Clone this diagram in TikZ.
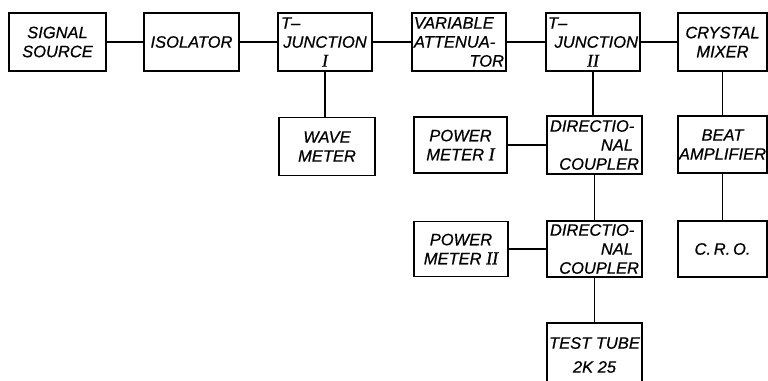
\documentclass[tikz,border=0pt]{standalone}
\usepackage{fontspec}
\setmainfont{Liberation Sans}[ItalicFeatures={FakeBold=0.6}]
\newfontfamily\rmnum{Liberation Serif}[FakeBold=0.6]
\newcommand{\Lft}[1]{\makebox[\linewidth][l]{#1}}
\newcommand{\Rgt}[1]{\makebox[\linewidth][r]{#1}}
\newcommand{\Ctr}[1]{\makebox[\linewidth][c]{#1}}
\newcommand{\rnum}[1]{{\rmnum\itshape\fontsize{18}{19}\selectfont #1}}
\tikzset{
  blk/.style={draw, line width=1.4pt, inner sep=0pt, minimum height=58pt,
    font=\itshape\fontsize{16.5}{19}\selectfont, align=center},
  w/.style={text width=#1},
  conn/.style={line width=1.4pt}
}
\begin{document}
\begin{tikzpicture}[x=1pt,y=-1pt]
\useasboundingbox (0,0) rectangle (768,380);
\fill[white] (0,0) rectangle (768,380);
\clip (0,0) rectangle (768,380);
% row 1
\node[blk, minimum width=97pt] (ss) at (57.5,42) {SIGNAL\\SOURCE};
\node[blk, minimum width=95pt] (iso) at (191.5,42) {ISOLATOR};
\node[blk, minimum width=94pt, w=88pt, align=left] (tj1) at (325,42)
  {\Lft{T--}\\\Ctr{JUNCTION}\\\Ctr{\rnum{I}}};
\node[blk, minimum width=94pt, w=90pt, align=left] (va) at (459,42)
  {\Lft{VARIABLE}\\\Lft{ATTENUA-}\\\Rgt{TOR}};
\node[blk, minimum width=94pt, w=90pt, align=left] (tj2) at (593,42)
  {\Lft{T--}\\\Rgt{JUNCTION}\\\Ctr{\rnum{II}}};
\node[blk, minimum width=89pt] (cm) at (722.5,42) {CRYSTAL\\MIXER};
% row 2
\node[blk, minimum width=96pt] (wm) at (327,146.5) {WAVE\\METER};
\node[blk, minimum width=93pt, minimum height=56pt] (pm1) at (460.5,145) {POWER\\METER \rnum{I}};
\node[blk, minimum width=95pt, w=89pt, align=left] (dc1) at (594.5,145)
  {\Lft{DIRECTIO-}\\\Rgt{NAL\hspace*{6pt}}\\\Rgt{COUPLER}};
\node[blk, minimum width=89pt, minimum height=57pt] (ba) at (722.5,144.5) {BEAT\\AMPLIFIER};
% row 3
\node[blk, minimum width=94pt, minimum height=55pt] (pm2) at (461,249) {POWER\\METER \rnum{II}};
\node[blk, minimum width=95pt, minimum height=56pt, w=89pt, align=left] (dc2) at (594.5,249)
  {\Lft{DIRECTIO-}\\\Rgt{NAL\hspace*{6pt}}\\\Rgt{COUPLER}};
\node[blk, minimum width=89pt, minimum height=56pt] (cro) at (722.5,249) {C.\,R.\,O.};
% row 4
\node[blk, minimum width=95pt, minimum height=64pt] (tt) at (594.5,355) {TEST TUBE\\[5pt]2K 25};
% connectors
\draw[conn] (ss) -- (iso);
\draw[conn] (iso) -- (tj1);
\draw[conn] (tj1) -- (va);
\draw[conn] (va) -- (tj2);
\draw[conn] (tj2) -- (cm);
\draw[conn] (tj1.south) -- (tj1.south |- wm.north);
\draw[conn] (tj2.south) -- (tj2.south |- dc1.north);
\draw[conn] (pm1) -- (dc1);
\draw[conn] (dc1) -- (dc2);
\draw[conn] (pm2) -- (dc2);
\draw[conn] (dc2) -- (tt);
\draw[conn] (cm) -- (ba);
\draw[conn] (ba) -- (cro);
\end{tikzpicture}
\end{document}
